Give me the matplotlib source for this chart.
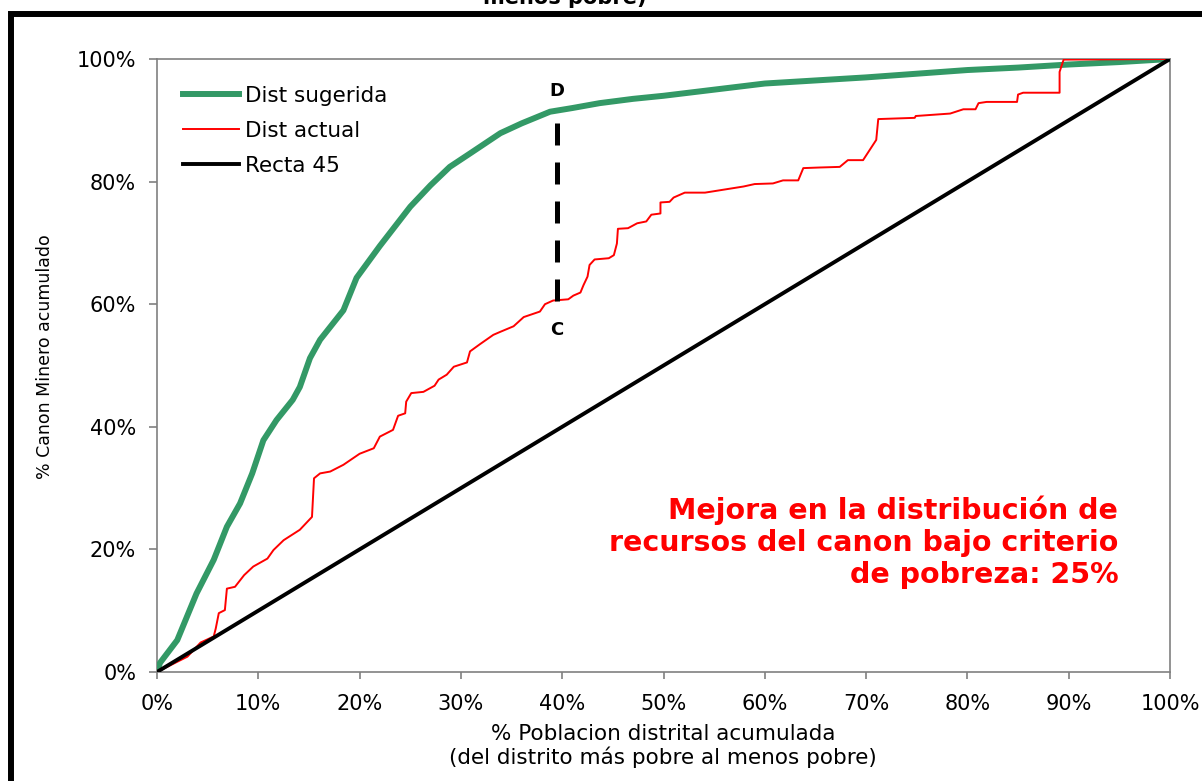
import matplotlib
matplotlib.use("Agg")
import matplotlib.pyplot as plt
from matplotlib.patches import Rectangle
from matplotlib.ticker import FuncFormatter, MultipleLocator

# % poblacion acumulada vs % canon acumulado
sug_x = [0, 0.3, 2.0, 3.9, 5.6, 6.9, 8.2, 9.4, 10.5, 11.8, 13.4, 14.1, 15.1, 16.1,
         18.4, 19.7, 22.0, 25.0, 27.0, 28.9, 31.0, 33.9, 36.0, 38.8, 41.0, 43.7,
         47.0, 50.0, 55.0, 60.0, 65.0, 70.0, 75.0, 80.0, 85.0, 90.0, 95.0, 100.0]
sug_y = [0, 1.5, 5.2, 12.8, 18.3, 23.7, 27.5, 32.4, 37.8, 41.1, 44.4, 46.5, 51.2, 54.2,
         59.0, 64.3, 69.5, 75.9, 79.4, 82.4, 84.7, 87.9, 89.5, 91.4, 92.0, 92.8,
         93.5, 94.0, 95.0, 96.0, 96.5, 97.0, 97.6, 98.2, 98.6, 99.1, 99.5, 100.0]

act_x = [0, 3.0, 4.3, 5.6, 5.8, 6.1, 6.7, 6.9, 7.7, 8.6, 9.5, 10.9, 11.5, 12.5, 14.1,
         15.3, 15.5, 16.1, 17.1, 18.4, 20.0, 21.4, 22.0, 23.3, 23.8, 24.5, 24.6, 25.1,
         26.3, 27.4, 27.8, 28.6, 29.3, 30.6, 30.9, 31.9, 33.2, 33.9, 35.2, 36.2, 37.8,
         38.3, 39.1, 40.6, 41.1, 41.8, 42.1, 42.5, 42.7, 43.2, 44.6, 45.1, 45.4, 45.5,
         46.5, 47.4, 48.3, 48.8, 49.7, 49.7, 50.6, 51.0, 52.1, 54.1, 57.9, 59.0, 60.8,
         61.8, 63.3, 63.8, 65.4, 67.4, 68.2, 69.7, 71.0, 71.2, 74.8, 74.9, 78.3, 79.6,
         80.8, 81.1, 81.9, 84.9, 85.0, 85.5, 89.1, 89.1, 89.5, 100.0]
act_y = [0, 2.5, 4.8, 5.8, 7.1, 9.6, 10.1, 13.6, 13.9, 15.8, 17.2, 18.5, 19.9, 21.5, 23.2,
         25.3, 31.6, 32.4, 32.7, 33.8, 35.6, 36.5, 38.4, 39.5, 41.8, 42.2, 44.1, 45.5,
         45.7, 46.7, 47.7, 48.5, 49.8, 50.5, 52.3, 53.5, 55.0, 55.5, 56.4, 57.9, 58.8,
         60.0, 60.6, 60.8, 61.4, 61.9, 63.1, 64.5, 66.4, 67.3, 67.5, 68.0, 69.9, 72.3,
         72.4, 73.2, 73.5, 74.6, 74.8, 76.6, 76.7, 77.4, 78.2, 78.2, 79.2, 79.6, 79.7,
         80.2, 80.2, 82.2, 82.3, 82.4, 83.5, 83.5, 86.8, 90.2, 90.4, 90.7, 91.1, 91.8,
         91.8, 92.8, 93.0, 93.0, 94.2, 94.5, 94.5, 97.9, 99.9, 100.0]

recta_x = [0, 100]
recta_y = [0, 100]

gap_x = [39.5, 39.5]
gap_y = [60.6, 91.6]

labels = ["Dist sugerida", "Dist actual", "Recta 45"]
note = "Mejora en la distribución de\nrecursos del canon bajo criterio\nde pobreza: 25%"

W, H = 1202, 781
fig = plt.figure(figsize=(W / 100, H / 100), dpi=100)
fig.patch.set_facecolor("white")
ax = fig.add_axes([157 / W, 1 - 672 / H, (1170 - 157) / W, (672 - 59) / H])

ax.plot(sug_x, sug_y, color="#339966", lw=4.3, solid_joinstyle="round", label=labels[0], zorder=3)
ax.plot(act_x, act_y, color="#ff0000", lw=1.4, label=labels[1], zorder=4)
ax.plot(recta_x, recta_y, color="black", lw=2.8, label=labels[2], zorder=5)
ax.plot(gap_x, gap_y, color="black", lw=3.6, dashes=(4.4, 3.4), dash_capstyle="butt", zorder=6)

ax.text(gap_x[0], gap_y[1] + 1.7, "D", fontsize=13, fontweight="bold", ha="center", va="bottom")
ax.text(gap_x[0], gap_y[0] - 3.3, "C", fontsize=13, fontweight="bold", ha="center", va="top")

ax.text(94.9, 21.2, note, color="#ff0000", fontsize=20.5, fontweight="bold",
        ha="right", va="center", multialignment="right", linespacing=1.17)

ax.set_xlim(0, 100)
ax.set_ylim(0, 100)
ax.xaxis.set_major_locator(MultipleLocator(10))
ax.yaxis.set_major_locator(MultipleLocator(20))
pct = FuncFormatter(lambda v, p: f"{v:.0f}%")
ax.xaxis.set_major_formatter(pct)
ax.yaxis.set_major_formatter(pct)
ax.tick_params(axis="both", colors="#808080", labelcolor="black", labelsize=15, width=1.2)
ax.tick_params(axis="y", length=6, pad=9)
ax.tick_params(axis="x", length=5, pad=11)
for spine in ax.spines.values():
    spine.set_color("#808080")
    spine.set_linewidth(1.2)

leg = ax.legend(loc="upper left", bbox_to_anchor=(0.017, 0.97), frameon=False, fontsize=15.5,
                handlelength=2.6, handletextpad=0.3, labelspacing=0.69, borderaxespad=0)

fig.text(663 / W, 1 - 746 / H, "% Poblacion distrital acumulada\n(del distrito más pobre al menos pobre)",
         fontsize=15.5, ha="center", va="center", linespacing=1.15)
fig.text(45 / W, 1 - 357 / H, "% Canon Minero acumulado", fontsize=12.5, rotation=90,
         ha="center", va="center")

# cut-off title at the top edge
fig.text(565 / W, 1 - 4 / H, "menos pobre)", fontsize=15, fontweight="bold", ha="center", va="baseline")

# thick black frame running off the right and bottom edge
fig.patches.append(Rectangle((11 / W, -0.1), 1.2, 1.1 - 14.5 / H, transform=fig.transFigure,
                             fill=False, edgecolor="black", lw=4.3, clip_on=False))

fig.savefig("out.png", dpi=100, facecolor=fig.get_facecolor())
